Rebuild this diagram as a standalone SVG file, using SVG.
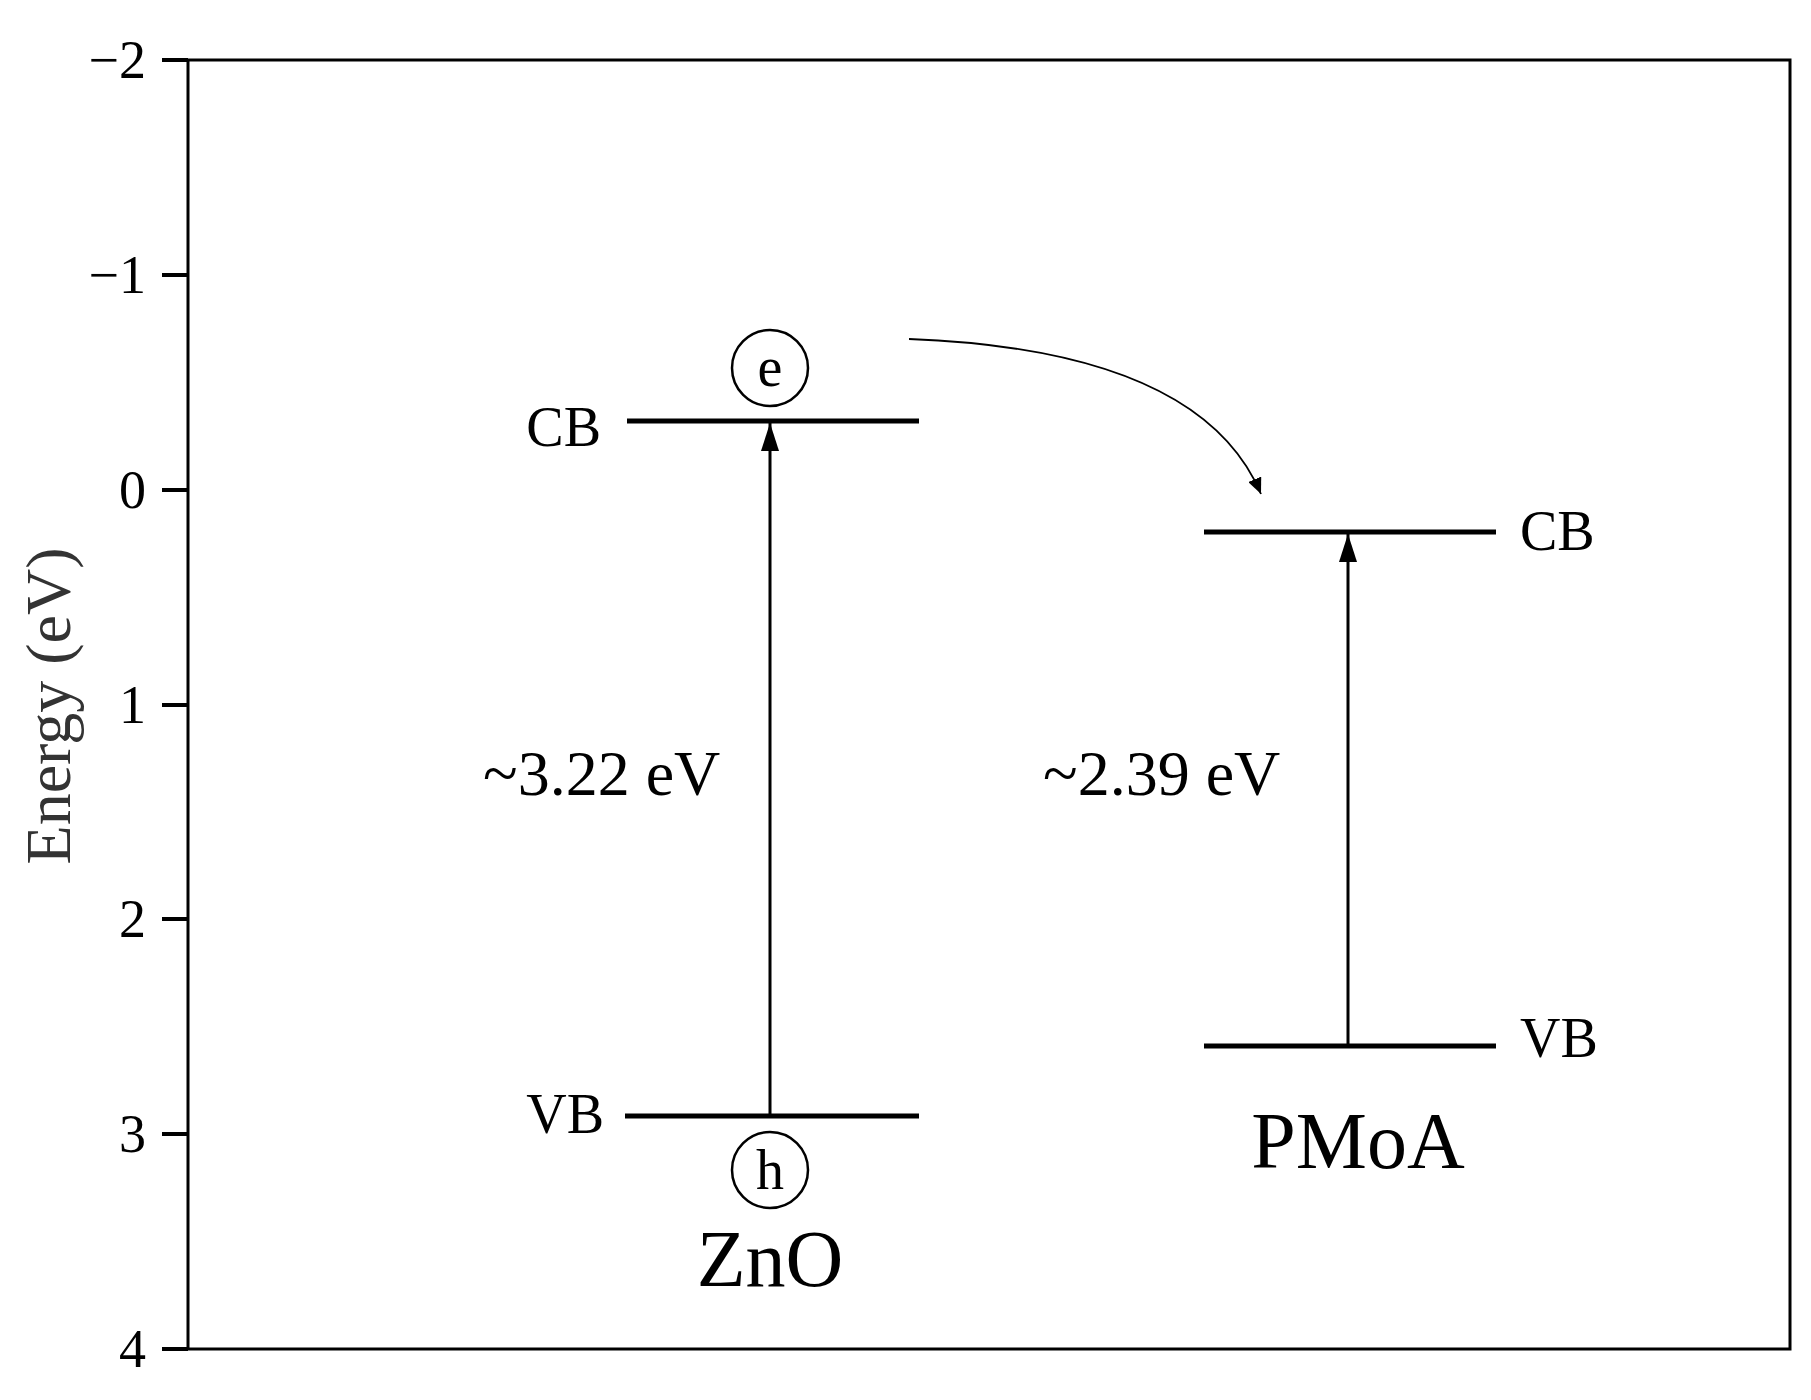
<svg xmlns="http://www.w3.org/2000/svg" width="1811" height="1400" viewBox="0 0 1811 1400">
<defs>
<marker id="ah" viewBox="0 0 10 10" refX="10" refY="5" markerWidth="16" markerHeight="14" markerUnits="userSpaceOnUse" orient="auto" preserveAspectRatio="none"><path d="M0,0 L10,5 L0,10 z" fill="#000"/></marker>
<marker id="big" viewBox="0 0 10 10" refX="10" refY="5" markerWidth="28" markerHeight="18" markerUnits="userSpaceOnUse" orient="auto" preserveAspectRatio="none"><path d="M0,0 L10,5 L0,10 z" fill="#000"/></marker>
</defs>
<style>
text{font-family:"Liberation Serif","Times New Roman",serif;fill:#000}
.tk{font-size:54px;text-anchor:end}
.lb{font-size:56px}
.lv{stroke:#000;stroke-width:5}
</style>
<rect width="1811" height="1400" fill="#fff"/>
<g id="axes">
<rect x="188" y="60" width="1602" height="1289" fill="none" stroke="#000" stroke-width="3"/>
<g stroke="#000" stroke-width="4">
<line x1="162" y1="60" x2="188" y2="60"/><line x1="162" y1="275" x2="188" y2="275"/><line x1="162" y1="490" x2="188" y2="490"/><line x1="162" y1="705" x2="188" y2="705"/><line x1="162" y1="919" x2="188" y2="919"/><line x1="162" y1="1134" x2="188" y2="1134"/><line x1="162" y1="1349" x2="188" y2="1349"/>
</g>
<text class="tk" x="146" y="78">−2</text><text class="tk" x="146" y="293">−1</text><text class="tk" x="146" y="508">0</text><text class="tk" x="146" y="723">1</text><text class="tk" x="146" y="937">2</text><text class="tk" x="146" y="1152">3</text><text class="tk" x="146" y="1367">4</text>
<text x="70" y="706" font-size="64" style="fill:#333" text-anchor="middle" transform="rotate(-90 70 706)">Energy (eV)</text>
</g>
<g id="zno">
<line class="lv" x1="627" y1="421" x2="919" y2="421"/>
<line class="lv" x1="625" y1="1116" x2="919" y2="1116"/>
<text class="lb" x="601" y="446" text-anchor="end">CB</text>
<text class="lb" x="604" y="1133" text-anchor="end">VB</text>
<circle cx="770" cy="368" r="38" fill="none" stroke="#000" stroke-width="2.5"/>
<text x="770" y="386" font-size="56" text-anchor="middle">e</text>
<circle cx="770" cy="1170" r="38" fill="none" stroke="#000" stroke-width="2.5"/>
<text x="770" y="1189" font-size="56" text-anchor="middle">h</text>
<text x="770" y="1286" font-size="80" text-anchor="middle">ZnO</text>
<text x="483" y="795" font-size="64">~3.22 eV</text>
</g>
<g id="pmoa">
<line class="lv" x1="1204" y1="532" x2="1496" y2="532"/>
<line class="lv" x1="1204" y1="1046" x2="1496" y2="1046"/>
<text class="lb" x="1520" y="550">CB</text>
<text class="lb" x="1520" y="1057">VB</text>
<text x="1358" y="1168" font-size="80" text-anchor="middle">PMoA</text>
<text x="1043" y="795" font-size="64">~2.39 eV</text>
</g>
<g id="connectors" fill="none" stroke="#000">
<line x1="770" y1="1114" x2="770" y2="423" stroke-width="3" marker-end="url(#big)"/>
<line x1="1348" y1="1044" x2="1348" y2="534" stroke-width="3" marker-end="url(#big)"/>
<path d="M909,339 Q1200,350 1261,494" stroke-width="1.8" marker-end="url(#ah)"/>
</g>
</svg>
